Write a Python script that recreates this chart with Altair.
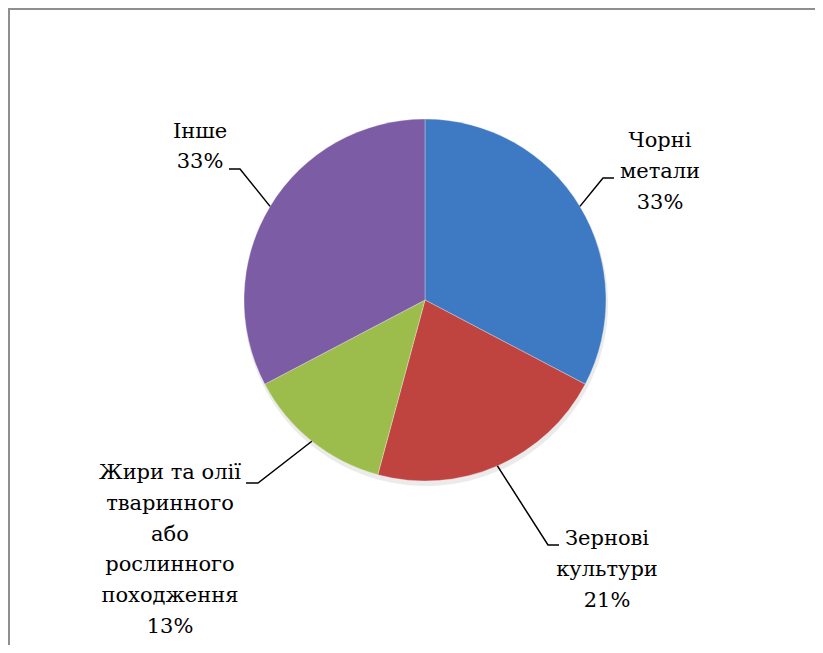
import math
import altair as alt
import pandas as pd

# ---- data ----
categories = ["Чорні метали", "Зернові культури",
              "Жири та олії тваринного або рослинного походження", "Інше"]
shares = [32.7, 21.5, 13.1, 32.7]
percent_labels = ["33%", "21%", "13%", "33%"]
label_lines = [["Чорні", "метали"], ["Зернові", "культури"],
               ["Жири та олії", "тваринного", "або", "рослинного", "походження"],
               ["Інше"]]
colors = ["#3E7AC3", "#BF433F", "#9CBD4C", "#7D5CA6"]

# ---- layout (pixels in the plot area) ----
W, H = 807, 637
CX, CY, R = 417, 292, 181
LINE_H = 30.8
label_centers = [(652, 164), (599, 562), (162, 542), (192, 139)]
elbows = [(595, 170), (540, 537), (250, 475), (232, 161)]
ends = [(606, 170), (551, 537), (238, 475), (221, 161)]

total = sum(shares)
pie_df = pd.DataFrame({"category": categories, "share": shares, "idx": range(len(categories))})

# label text (first-line position computed so the block is centred)
lab_rows = []
for i, c in enumerate(categories):
    lines = label_lines[i] + [percent_labels[i]]
    n = len(lines)
    lab_rows.append({"category": c, "text": "\n".join(lines),
                     "lx": label_centers[i][0],
                     "ly": label_centers[i][1] - (n - 1) * LINE_H / 2})
lab_df = pd.DataFrame(lab_rows)

# leader lines: start on the pie edge at each slice's mid-angle
line_rows = []
cum = 0.0
for i, c in enumerate(categories):
    mid = (cum + shares[i] / 2) / total * 2 * math.pi
    cum += shares[i]
    sx, sy = CX + R * math.sin(mid), CY - R * math.cos(mid)
    pts = [(sx, sy), elbows[i], ends[i]]
    for k, (px, py) in enumerate(pts):
        line_rows.append({"category": c, "seq": k, "px": px, "py": py})
line_df = pd.DataFrame(line_rows)

shadow = alt.Chart(pie_df).mark_arc(radius=R + 1, color="#000000", opacity=0.08, stroke=None).encode(
    theta=alt.Theta("share:Q", stack=True),
    order=alt.Order("idx:Q"),
    x=alt.value(CX + 1), y=alt.value(CY + 4),
)

pie = alt.Chart(pie_df).mark_arc(radius=R, stroke="#ffffff", strokeWidth=0.6, strokeOpacity=0.5).encode(
    theta=alt.Theta("share:Q", stack=True),
    color=alt.Color("category:N", scale=alt.Scale(domain=categories, range=colors), legend=None),
    order=alt.Order("idx:Q"),
    x=alt.value(CX), y=alt.value(CY),
)

leaders = alt.Chart(line_df).mark_line(color="#000000", strokeWidth=1.5).encode(
    x=alt.X("px:Q", scale=None, axis=None),
    y=alt.Y("py:Q", scale=None, axis=None),
    detail="category:N",
    order="seq:Q",
)

labels = alt.Chart(lab_df).mark_text(
    font="DejaVu Serif", fontSize=21, lineHeight=LINE_H, lineBreak="\n",
    align="center", baseline="middle", color="#000000",
).encode(
    x=alt.X("lx:Q", scale=None, axis=None),
    y=alt.Y("ly:Q", scale=None, axis=None),
    text="text:N",
)

frame_top = alt.Chart(pie_df).mark_rule(color="#8f8f8f", strokeWidth=2).encode(
    x=alt.value(0), x2=alt.value(W + 30), y=alt.value(1))
frame_left = alt.Chart(pie_df).mark_rule(color="#8f8f8f", strokeWidth=2).encode(
    x=alt.value(1), y=alt.value(0), y2=alt.value(H + 30))

chart = alt.layer(shadow, pie, leaders, labels, frame_top, frame_left).properties(
    width=W, height=H,
    autosize=alt.AutoSizeParams(type="none"),
    padding={"left": 0, "top": 0, "right": 0, "bottom": 0},
    background="#ffffff",
).configure_view(stroke=None)

chart.save("out.html", embed_options={"renderer": "svg", "actions": False})
